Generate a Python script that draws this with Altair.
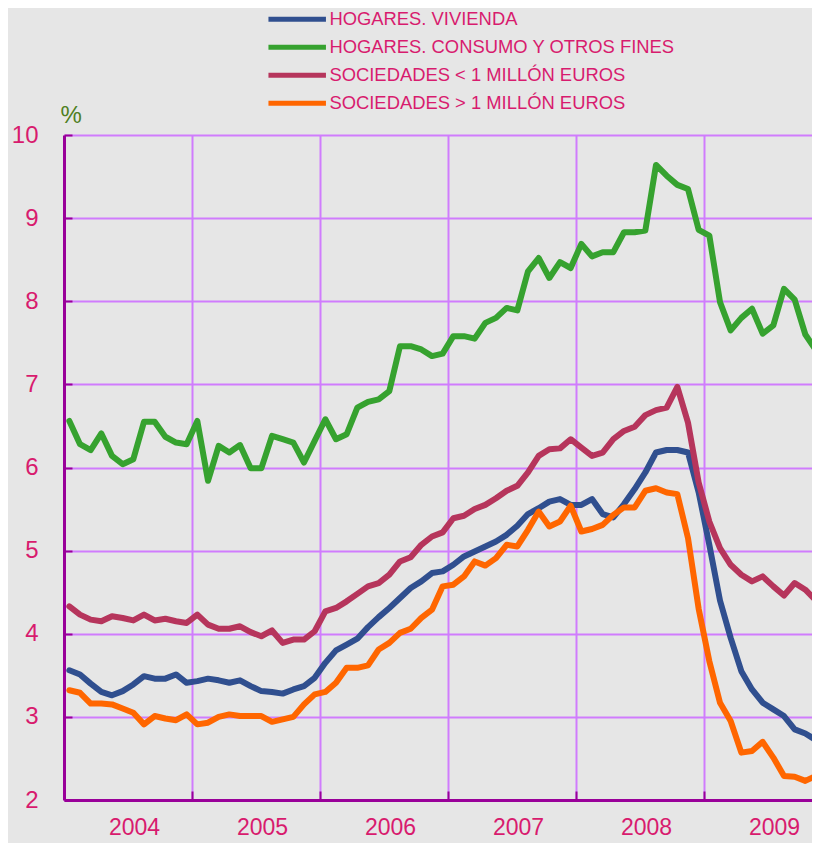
import altair as alt
import pandas as pd

SERIES = [
    "HOGARES. VIVIENDA",
    "HOGARES. CONSUMO Y OTROS FINES",
    "SOCIEDADES < 1 MILLÓN EUROS",
    "SOCIEDADES > 1 MILLÓN EUROS",
]
COLORS = ["#304f8f", "#36a22f", "#b6355c", "#ff6600"]
YEARS = ["2004", "2005", "2006", "2007", "2008", "2009"]
Y_TICKS = [2, 3, 4, 5, 6, 7, 8, 9, 10]

# monthly values, Jan 2004 .. Nov 2009
vivienda = [3.56, 3.51, 3.40, 3.30, 3.26, 3.31, 3.39, 3.49, 3.46, 3.46,
            3.51, 3.41, 3.43, 3.46, 3.44, 3.41, 3.44, 3.37, 3.31, 3.30,
            3.28, 3.33, 3.37, 3.47, 3.65, 3.80, 3.87, 3.94, 4.08, 4.20,
            4.31, 4.43, 4.55, 4.63, 4.73, 4.75, 4.83, 4.93, 4.99, 5.05,
            5.11, 5.19, 5.30, 5.44, 5.51, 5.59, 5.62, 5.55, 5.55, 5.62,
            5.44, 5.40, 5.56, 5.74, 5.94, 6.18, 6.21, 6.21, 6.18, 5.70,
            5.07, 4.40, 3.95, 3.55, 3.33, 3.17, 3.09, 3.01, 2.85, 2.80, 2.72]
consumo = [6.56, 6.28, 6.21, 6.41, 6.14, 6.04, 6.10, 6.55, 6.55, 6.37,
           6.30, 6.28, 6.56, 5.84, 6.26, 6.18, 6.27, 5.99, 5.99, 6.38,
           6.34, 6.30, 6.06, 6.32, 6.58, 6.34, 6.40, 6.72, 6.79, 6.82,
           6.92, 7.46, 7.46, 7.42, 7.34, 7.37, 7.58, 7.58, 7.55, 7.74,
           7.80, 7.92, 7.89, 8.36, 8.52, 8.28, 8.47, 8.40, 8.69, 8.54,
           8.59, 8.59, 8.83, 8.83, 8.85, 9.64, 9.51, 9.40, 9.35, 8.86,
           8.79, 7.99, 7.65, 7.80, 7.91, 7.61, 7.71, 8.15, 8.02, 7.60, 7.41]
soc_pequenas = [4.33, 4.23, 4.17, 4.15, 4.21, 4.19, 4.16, 4.23, 4.16, 4.18,
                4.15, 4.13, 4.23, 4.11, 4.06, 4.06, 4.09, 4.02, 3.97, 4.04,
                3.89, 3.93, 3.93, 4.03, 4.27, 4.31, 4.39, 4.48, 4.57, 4.61,
                4.71, 4.87, 4.92, 5.07, 5.17, 5.22, 5.39, 5.42, 5.50, 5.55,
                5.63, 5.72, 5.78, 5.94, 6.14, 6.22, 6.23, 6.34, 6.24, 6.14,
                6.18, 6.34, 6.44, 6.49, 6.63, 6.69, 6.72, 6.97, 6.54, 5.82,
                5.35, 5.03, 4.83, 4.71, 4.63, 4.69, 4.57, 4.46, 4.61, 4.53, 4.40]
soc_grandes = [3.32, 3.29, 3.16, 3.16, 3.15, 3.10, 3.05, 2.91, 3.01, 2.98,
               2.96, 3.03, 2.91, 2.93, 3.00, 3.03, 3.01, 3.01, 3.01, 2.94,
               2.97, 3.00, 3.15, 3.27, 3.30, 3.41, 3.59, 3.59, 3.62, 3.81,
               3.89, 4.01, 4.06, 4.19, 4.29, 4.57, 4.59, 4.69, 4.87, 4.82,
               4.91, 5.07, 5.05, 5.25, 5.47, 5.29, 5.35, 5.54, 5.23, 5.26,
               5.31, 5.43, 5.52, 5.52, 5.72, 5.75, 5.70, 5.68, 5.15, 4.30,
               3.67, 3.17, 2.95, 2.57, 2.59, 2.70, 2.51, 2.29, 2.28, 2.23, 2.29]

BG = "#e6e6e6"
GRID = "#d07cfd"
AXIS = "#990099"
PINK = "#d81b6e"
GREEN_T = "#4f7f1f"
NUM_FONT = "Liberation Sans"

rows = []
for name, vals in zip(SERIES, [vivienda, consumo, soc_pequenas, soc_grandes]):
    for i, v in enumerate(vals):
        # month i, centred in its monthly band (band 0 = Jan 2004)
        rows.append({"serie": name, "mes": i + 0.5, "valor": v})
df = pd.DataFrame(rows)

year_arr = "[" + ",".join("'" + y + "'" for y in YEARS) + "]"
x_values = [6 * k for k in range(1, 2 * len(YEARS))]
label_expr = "datum.value % 12 === 6 ? " + year_arr + "[floor(datum.value / 12)] : ''"

x_enc = alt.X(
    "mes:Q",
    scale=alt.Scale(domain=[0, 70.125], nice=False, zero=False),
    axis=alt.Axis(
        title=None,
        values=x_values,
        labelExpr=label_expr,
        grid=True,
        gridColor=GRID,
        gridWidth=2,
        gridOpacity={"condition": {"test": "datum.value % 12 === 0", "value": 1}, "value": 0},
        tickOpacity={"condition": {"test": "datum.value % 12 === 0", "value": 1}, "value": 0},
        tickColor=AXIS,
        tickWidth=2,
        tickSize={"expr": "-9"},
        domainColor=AXIS,
        domainWidth=3,
        labelFont=NUM_FONT,
        labelFontSize=23,
        labelColor=PINK,
        labelPadding=25,
        labelOffset=6,
        labelFlush=False,
        labelOverlap=False,
    ),
)

y_enc = alt.Y(
    "valor:Q",
    scale=alt.Scale(domain=[2, 10], nice=False, zero=False),
    axis=alt.Axis(
        values=Y_TICKS,
        title="%",
        titleAngle=0,
        titleX=-4,
        titleY=-13,
        titleAlign="left",
        titleBaseline="alphabetic",
        titleColor=GREEN_T,
        titleFont=NUM_FONT,
        titleFontSize=24,
        titleFontWeight="normal",
        grid=True,
        gridColor=GRID,
        gridWidth=2,
        domainColor=AXIS,
        domainWidth=3,
        tickColor=AXIS,
        tickWidth=2,
        tickSize={"expr": "-8"},
        labelPadding=34,
        labelFont=NUM_FONT,
        labelFontSize=24,
        labelColor=PINK,
    ),
)

color_enc = alt.Color(
    "serie:N",
    scale=alt.Scale(domain=SERIES, range=COLORS),
    legend=alt.Legend(
        title=None,
        orient="none",
        legendX=224,
        legendY=-125,
        direction="vertical",
        symbolType="M-5.75,0H5.75",
        symbolSize=100,
        symbolStrokeWidth=5,
        labelFont="Liberation Sans",
        labelFontSize=18.4,
        labelColor=PINK,
        labelOffset=23,
        labelLimit=0,
        rowPadding=7,
        padding=0,
    ),
)

base = alt.Chart(df).mark_line(strokeWidth=6, strokeJoin="round", strokeCap="round").encode(
    x=x_enc, y=y_enc, color=color_enc
)

layers = [base.transform_filter(alt.datum.serie == s) for s in SERIES]

chart = alt.layer(*layers).properties(
    width=748,
    height=665,
    background=BG,
    padding={"left": 56, "top": 127, "right": 0, "bottom": 43},
    autosize=alt.AutoSizeParams(type="none"),
).configure_view(stroke=None)

chart.save("out.html", embed_options={"renderer": "svg", "actions": False})
